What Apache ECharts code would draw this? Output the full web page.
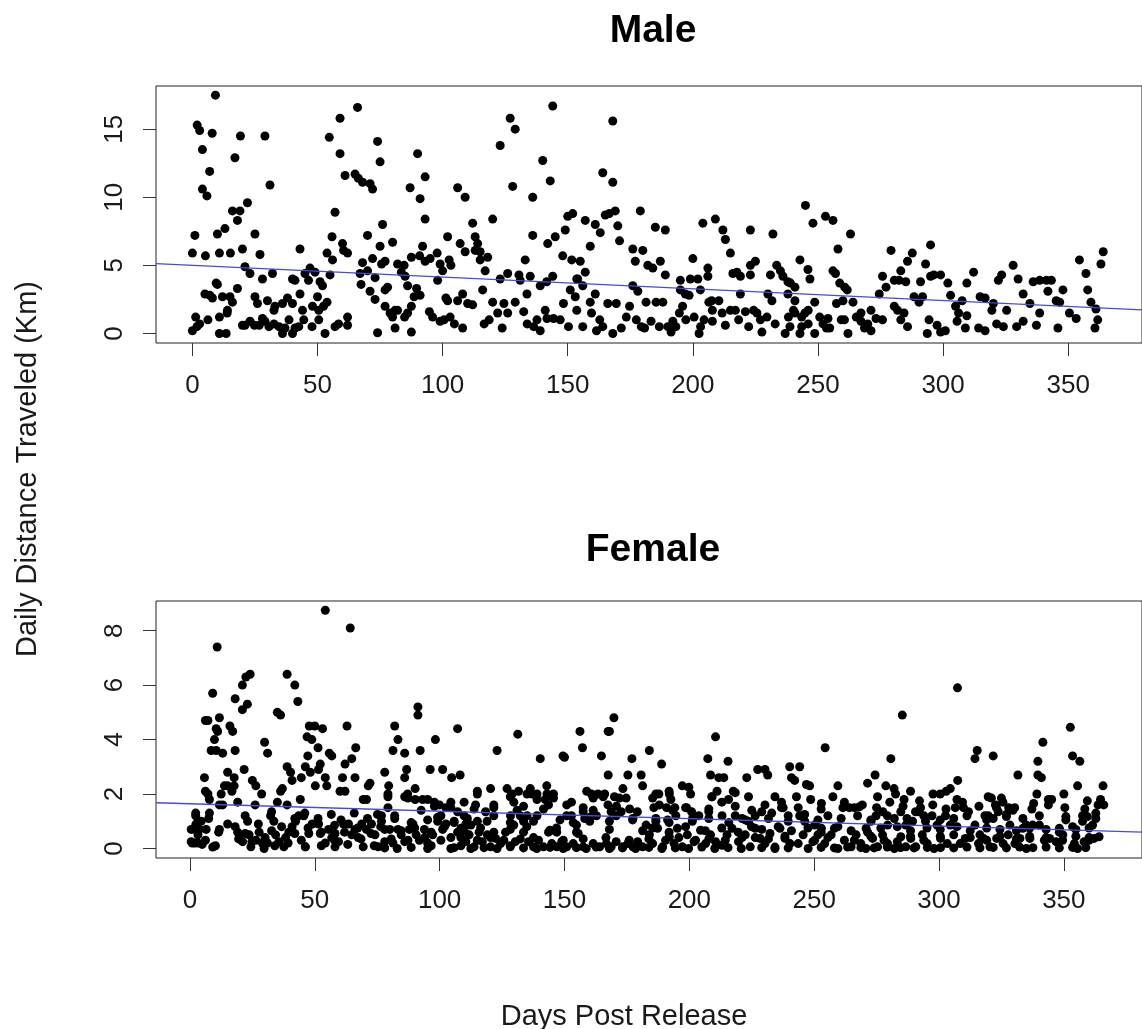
<!DOCTYPE html>
<html>
<head>
<meta charset="utf-8">
<script src="https://cdn.jsdelivr.net/npm/echarts@6/dist/echarts.min.js"></script>
<style>
  html, body { margin: 0; padding: 0; background: #fff; }
  #chart { width: 1142px; height: 1029px; }
</style>
</head>
<body>
<div id="chart"></div>
<script>
// [day, km]
const malePoints = [
  [9.2,17.5],[1.9,15.3],[2.9,14.9],[7.9,14.7],[4,13.5],[19.2,14.5],[29,14.5],[17,12.9],[6.9,11.9],[4,10.6],
  [5.8,10.1],[31,10.9],[22,9.6],[16,9.0],[19,9.0],[18,8.3],[13,7.7],[10,7.3],[1,7.2],[25,7.3],
  [0,5.9],[5.2,5.7],[10.8,5.9],[15.2,5.9],[20,6.2],[27,5.8],[43,6.2],[21,4.9],[23,4.4],[28,4.0],
  [32,4.4],[40,4.0],[41,3.9],[45,4.4],[47,4.8],[46.4,3.9],[49,4.5],[51,3.8],[52,3.5],[55,4.3],
  [9.5,3.7],[10,3.6],[5,2.9],[7,2.8],[8,2.6],[12,2.7],[15,2.7],[16,2.3],[18,3.3],[25,2.7],
  [26,2.2],[30,2.4],[33,2.0],[32.6,1.7],[36,2.2],[38,2.6],[40,2.2],[43,2.9],[44,1.7],[44.5,1.0],
  [48,2.0],[50,2.7],[50.5,1.7],[52.4,2.0],[53.8,2.3],[13.9,1.5],[14,1.7],[10.8,1.2],[1.3,1.2],[2.9,0.7],
  [6.2,1.0],[0,0.2],[1.8,0.5],[10.8,0],[13.5,0],[20,0.6],[21,0.6],[23,0.9],[24.8,0.6],[26.7,0.6],
  [28,1.1],[29,0.9],[30.6,0.5],[32.6,0.7],[34.6,0.5],[36,0],[37,0.4],[38.6,1.0],[40,0],[41,0.4],
  [42.5,0.5],[47.8,0.5],[50.5,1.0],[53,0],[57,0.5],[58.4,0.7],[62,0.6],[62,1.2],[54.7,14.4],[59,15.8],
  [66,16.6],[59,13.2],[61,11.6],[65,11.7],[66.3,11.4],[68,11.1],[71,11.0],[72,10.6],[57,8.9],[55.8,7.1],
  [60,6.6],[60.4,6.1],[62,5.9],[53.8,5.9],[56,5.4],[68,5.2],[70,7.2],[72,5.5],[75.6,5.1],[76,8.0],
  [77,5.3],[80,6.7],[74,14.1],[75,12.6],[75,6.4],[67,4.4],[67.4,3.6],[70,4.6],[73,4.1],[71,3.1],
  [73,2.5],[77,3.2],[78,3.4],[77,2.0],[79,1.5],[81,1.7],[82,1.7],[80,1.2],[81,0.4],[87.5,0.1],
  [74,0.05],[82,5.1],[84.6,5.0],[83.5,4.5],[85,4.2],[86,3.5],[87.5,5.6],[90.8,5.7],[93,5.3],[95,5.5],
  [97.8,5.9],[99,5.1],[100,4.6],[98,3.9],[90,13.2],[93,11.5],[91,9.9],[93,8.4],[87,10.7],[92,6.4],
  [89.6,3.3],[88.6,2.7],[91,2.8],[87.5,2.0],[86,1.5],[84.8,1.2],[94.7,1.6],[96,1.2],[99,0.9],[100.6,1.0],
  [103,1.2],[104.7,0.7],[108,0.4],[102,7.1],[106,10.7],[109,10.0],[107,6.6],[109,6.0],[102.6,5.4],[103.3,5.0],
  [101.3,2.6],[102,2.4],[106,2.4],[108,2.9],
  [112,8.1],[113,7.1],[114,6.6],[113,6.1],[115,6.0],[115,5.4],[118,5.6],[117,4.6],[120,8.4],[123,13.8],
  [127,15.8],[129,15.0],[128,10.8],[136,10.0],[140,12.7],[143,11.2],[144,16.7],[136,7.2],[142,6.6],[145,7.1],
  [149,7.6],[148,5.7],[150,8.6],[152,8.8],[157,8.3],[151.6,5.4],[155,5.3],[157,4.5],[153.6,4.0],[159,6.4],
  [161,8.0],[163,7.4],[165,8.7],[166.6,8.8],[169,9.0],[168,11.1],[164,11.8],[170,7.9],[170.7,6.8],[168,15.6],
  [176,6.2],[179,9.0],[180,6.1],[177,5.3],[182,5.0],[184,4.8],[187,5.3],[185,7.8],[189,7.6],[189,4.3],
  [200,5.5],[204,8.1],[209,8.4],[212,7.6],[213,6.9],[215,5.9],[206,4.8],[206,4.2],[202,4.0],[199,4.0],
  [195,3.9],[216,4.4],[217.6,4.5],[219,4.2],[223,7.6],[223,5.0],[225,5.3],[223,4.3],[232,7.3],[231,4.3],
  [233.5,5.0],[235,4.6],[236,4.2],[238,3.8],[239,3.7],
  [123,4.0],[126,4.4],[130.5,4.3],[131,3.9],[133,5.4],[133.7,2.9],[135,4.2],[139,3.5],[141.6,3.8],[144,4.2],
  [151,3.2],[154,4.0],[156,3.5],[161,2.9],[176,3.5],[178,3.1],[195,3.2],[197,2.9],[203,3.2],[207.5,2.4],
  [219,2.9],[230,2.9],[238,2.9],
  [110,2.2],[112,2.1],[116,3.2],[120,2.3],[122,1.5],[124.5,2.2],[126,1.5],[129,2.3],[132.4,1.6],[133.8,0.7],
  [136.4,0.5],[137.7,1.0],[139,0.2],[141,1.7],[141.7,1.1],[144.3,1.1],[147,1.0],[148.3,2.2],[150.3,0.5],[153,2.7],
  [153.6,1.7],[156,0.5],[159,2.3],[159.5,1.5],[161.5,0.2],[162.8,1.0],[164,0.5],[166,2.2],[168,0],[169.4,2.2],
  [171.4,0.4],[173.4,1.2],[174.7,2.0],[177.4,1.0],[179.4,0.5],[181.3,2.3],[183.3,0.9],[185.3,2.3],[186.6,0.5],[188,2.3],
  [190,0.5],[192,0.9],[193.2,0.5],[194.6,1.5],[195.9,2.0],[197.2,1.0],[198.5,2.8],[200.5,1.2],[202.5,0],[204.5,1.0],
  [206.4,2.3],[207.8,1.7],[210.4,2.4],[211.7,1.5],[213,0.6],[215,1.7],[217,1.7],[218.3,1.0],[221,1.6],[222.3,0.5],
  [224.3,1.7],[225.6,1.5],[227.6,0.1],[229.6,1.2],[231.6,2.4],[232.9,0.7],[236.9,0],[238.2,1.2],[240.2,1.7],[243.5,1.2],
  [123.8,0.4],[116.6,0.7],[118.6,1.0],[180.7,0.4],[191.3,0.1],[203.1,0.5],[207.8,0.9],[227,1.0],[238.8,0.5],
  [245,9.4],[248,8.1],[253,8.6],[256,8.3],[263,7.3],[258,6.2],[242.8,5.4],[246,4.7],[246.8,4.0],[256,4.6],
  [257,4.4],[258.7,3.7],[260.7,3.4],[261.7,3.2],[240.8,3.4],[240.8,2.4],[240.8,1.5],
  [248.7,2.3],[246.1,1.7],[244.8,1.5],[246.1,0.7],[243.5,0.5],[248.7,0],[252,0.7],[254,1.1],[253.4,0.4],[257.4,2.2],
  [260,2.4],[262,0],[260.6,1.0],[264,2.3],[265.3,1.2],[267.2,1.5],[268.6,0.4],[269.9,0.7],[271.2,1.7],[273.2,1.1],
  [274.5,2.9],[275.8,4.2],[277.2,3.4],[279.2,6.1],[280.5,3.9],[282.4,3.9],[283.1,4.6],[285.1,3.8],[285.8,5.3],[287.7,5.9],
  [280.5,2.0],[281.8,1.7],[284.4,1.5],[283.1,1.0],[285.8,0.5],[288.4,2.7],[290.4,2.3],[291,3.8],[293,5.1],[295,6.5],
  [295,4.2],[296.3,4.3],[299,4.3],[301.9,3.7],[303,2.8],[305,2.0],[306.2,1.5],[307.6,2.4],[309.5,3.7],[312.2,4.5],
  [314.8,2.7],[316.8,2.6],[319.5,1.7],[320.1,2.2],[322.1,3.9],[323.4,4.3],[325.4,1.7],[328,5.0],[330,4.0],[332,2.9],
  [334.7,2.2],[336,3.8],[338.6,3.9],[341.3,3.9],[343.3,3.9],[341.9,3.1],[345.2,2.4],[347.9,3.2],[346.6,2.3],[350.5,1.5],
  [353.2,1.1],[354.5,5.4],[357.1,4.4],[357.8,3.2],[359.1,2.3],[361.1,1.8],[361.8,1.0],[363.1,5.1],[364,6.0],[360.7,0.4],
  [338.6,1.5],[337.3,0.6],[345.9,0.4],[332,0.9],[329.4,0.5],[324.1,0.5],[321.4,0.7],[316.8,0.2],[314.2,0.4],[309.5,1.3],
  [308.9,0.4],[305.6,0.9],[300.9,0.2],[299,0.1],[297.6,0.6],[293.7,0],[294.4,1.0],[291.8,2.7],[271.2,0.2],[275.8,1.0],
  [267.2,0.9],[259.3,1.0],[254.7,0.4],[250.7,1.2],[242.8,0]
];

// [day, km], scattered points above the band
const femalePoints = [
  [54.2,8.75],[64.2,8.1],[10.9,7.4],[9.1,5.7],[21,6.0],[22.4,6.3],[24.1,6.4],[18.1,5.5],[23,5.3],[21,5.1],
  [38.9,6.4],[42,6.0],[43.2,5.4],[35,5.0],[36.3,4.9],[6.2,4.7],[7.2,4.7],[11.8,4.8],[10.5,4.4],[9.8,4.0],
  [11.1,4.3],[16,4.5],[17.1,4.3],[8.5,3.6],[10.5,3.6],[13.1,3.5],[18.1,3.6],[15.1,2.8],[17.7,2.6],[13.8,2.3],
  [15.1,2.3],[16.8,2.1],[17.7,2.3],[12.5,2.0],[29.9,3.9],[31.1,3.5],[5.8,2.6],[6.2,2.1],[7.2,2.0],[7.8,1.8],
  [7.8,1.3],[11.8,1.6],[13.1,1.6],[19.1,1.7],[26.1,1.6],[28.7,2.0],[21.7,2.9],[25,2.5],[26.4,2.3],[38.9,3.0],
  [40.3,2.8],[40.9,2.5],[44.6,2.6],[44.2,1.8],[37,2.2],[36.3,2.1],[35,1.7],[38.9,1.6],[47.8,4.5],[50,4.5],
  [53.1,4.4],[46.9,4.1],[48.8,4.0],[51.3,3.7],[47.2,3.4],[52.2,3.1],[51.5,2.9],[46.2,3.0],[48.2,2.8],[50.2,2.3],
  [54.2,2.6],[55.8,3.5],[56.8,3.4],[62.9,4.5],[66.4,3.7],[64.8,3.3],[62.1,3.1],[66.1,2.6],[61.1,2.6],[60.1,2.1],
  [62.1,2.1],[54.8,2.3],[69.4,1.8],[71.4,2.3],[72.1,2.4],[70.7,1.8],[78,2.8],[79.6,2.3],[79.3,1.9],[82,4.5],
  [83.3,4.0],[81.3,3.6],[86,3.5],[86,2.6],[86.8,2.9],[90.2,2.2],[91.3,5.2],[91.3,4.9],[92.2,3.6],[90.2,1.8],
  [87.2,2.0],[86,1.9],[96.2,2.9],[98.3,4.0],[101.2,2.9],[104.8,2.6],[107.2,4.4],[108.2,2.7],[104.5,1.7],[109.8,1.7],
  [93.2,1.8],[95.2,1.8],[97.9,1.7],[99.9,1.6],[102.5,1.5],[104.5,1.5],
  [123,3.6],[131.3,4.2],[140.3,3.3],[149.4,3.4],[150,3.35],[156.2,4.3],[157.2,3.7],[164.8,3.4],[167.5,4.3],[168,4.3],
  [169.8,4.8],[167.5,2.7],[175.4,2.7],[177,3.3],[180.7,2.7],[181.3,2.3],[184,3.6],[188.9,3.1],[186.6,2.0],[192,2.0],
  [192.6,1.8],[197.2,2.3],[200.5,2.0],[207.4,3.3],[208.5,2.7],[210.5,4.1],[211.8,2.6],[213.8,2.6],[215.5,3.2],[209.1,1.9],
  [211.1,2.1],[213,1.7],[215.7,1.8],[217.6,2.1],[223,2.6],[223.7,1.9],[227.4,2.9],[230.3,2.9],[231.4,2.7],[234.3,1.9],
  [237.6,1.5],[240.2,3.0],[240.9,2.6],[242.2,2.5],[244.2,3.0],[242.9,1.9],
  [115.1,2.0],[114.4,1.6],[120.4,2.2],[121.7,1.5],[127,2.2],[129,2.0],[129.7,1.7],[131.6,2.1],[135,2.0],[137,2.0],
  [139,2.0],[142.9,2.3],[142.3,1.8],[143.6,1.6],[145.6,2.0],[152.8,1.7],[157.5,1.35],[160.8,2.0],[161.5,1.85],[163.4,2.0],
  [166.1,2.0],[167.4,1.6],[170,1.9],[172,1.85],[174.7,1.85],[172.7,1.35],[179.2,1.35],[185.8,1.5],[187.8,2.0],[190.9,1.5],
  [194.2,1.5],[198.9,1.5],[200.9,1.35],
  [307.4,5.9],[285.3,4.9],[254.4,3.7],[352.6,4.45],[341.6,3.9],[280.7,3.3],[315.3,3.6],[314.4,3.3],[321.7,3.4],[339.6,3.2],
  [339.6,2.7],[341,2.6],[353.5,3.4],[356.4,3.2],[355.5,2.3],[365.7,2.3],[331.6,2.7],[350,2.0],[359.4,1.75],[364.7,1.8],
  [366,1.6],[345.1,1.8],[343.8,1.8],[339.2,2.0],[337.9,1.65],[246.9,2.35],[248.2,2.3],[248.6,1.8],[252.9,1.65],
  [257.5,1.9],[259.5,2.3],[271.4,2.4],[274.4,2.7],[275.4,1.9],[278.7,2.3],[282,2.2],[282.6,2.0],[288.6,2.1],[286,1.8],
  [297.6,2.0],[300.5,2.0],[302.9,2.1],[304.5,2.2],[307.2,1.8],[307.5,2.5],[292.6,1.5],[290.6,1.35],[319.7,1.9],[321,1.85],
  [325,1.85],[325.6,1.7],[329.6,1.4],[323,1.5],[319.7,1.2]
];

const femaleBandPoints = [
  [2.3,1.2],[2.5,0.9],[4.5,1.0],[0.5,0.7],[1.9,0.7],[3.8,0.7],[6.5,0.7],[0.5,0.25],[1.9,0.2],[3.2,0.2],
  [4.9,0.15],[9.1,0.05],[3.2,0.5],[11.8,0.7],[15.1,0.9],[19.1,0.6],[21.1,0.25],[23.1,1.0],[23.7,0.5],[24.4,0.06],
  [26.4,0.3],[27.7,0.6],[29,0.2],[29.7,0],[31,0.2],[32.3,1.2],[33.6,1.0],[34.3,0.5],[35.6,0.25],[37.6,0.06],
  [38.3,0.4],[39.6,0.6],[40.9,0.8],[42.3,1.0],[43.6,1.2],[45.6,1.2],[46.2,0.06],[47.6,0.55],[48.9,0.9],
  [51.5,0.9],[52.2,0.55],[54.2,0.2],[55.5,0.7],[56.8,0.4],[58.1,0.55],[59.5,0.25],[61.5,0.9],[63.5,0.9],[64.8,0.5],
  [66.1,0.7],[67.4,0.4],[68.8,0.9],[70.7,0.7],[72.7,0.9],[74.1,0.5],[75.4,0.06],[76.7,1.2],[78,0.25],[80,0.7],
  [82,1.2],[83.3,0.7],[84.6,0.5],[86,0.25],[87.9,0.7],[89.3,0.9],[90.6,0.5],[91.9,0.3],[93.9,0.7],[95.2,0.2],
  [97.2,0.5],[99.2,1.0],[100.5,1.2],[101.2,0.7],[102.5,0.9],[104.5,0.4],[105.8,1.0],[107.2,0.6],[108.5,0.1],[110.5,0.9],
  [104.5,0],[96.6,0.1],[81.3,0.2],[69.4,0.06],[58.1,0.06],[46.2,0.06],
  [0.9,0.2],[6.2,0.3],[10.2,0.1],[19.5,0.35],[24.8,0.25],[30.1,0.4],[34,0.1],[39.3,0.2],[44.6,0.3],[52.6,0.1],
  [57.9,0.3],[63.2,0.15],[68.5,0.35],[73.8,0.1],[2.3,0.85],[11.5,0.6],[18.1,0.8],[22.1,0.55],[27.4,0.9],[32.7,0.65],
  [36.7,0.8],[42,0.55],[47.3,0.75],[52.6,0.6],[57.9,0.85],[61.9,0.6],[67.2,0.75],[72.5,0.55],[76.4,0.8],[2.3,1.3],
  [7.5,1.1],[22.1,1.2],[32.7,1.35],[42,1.1],[46,1.3],[51.3,1.1],[56.6,1.25],[60.5,1.05],[65.8,1.3],[71.1,1.1],[75.1,1.25],
  [107.2,1.35],[109.8,1.2],[112.5,0.86],[115.1,1.0],[118.4,1.35],[121.7,1.2],[128.4,1.2],[132.3,1.2],[135,1.2],[139,1.2],
  [150.9,1.2],[152.8,1.2],[158.1,1.1],[162.8,1.2],[168.7,1.35],[170.7,1.2],[177.4,1.1],[182.7,0.86],[186.6,1.0],[191.3,1.05],
  [194.6,1.2],[201.3,1.1],[203.8,1.2],[207.8,1.35],[213.1,1.2],[218.4,1.2],[221.1,1.1],[223.7,1.0],[226.4,1.2],[229,1.35],
  [233,1.3],[236.9,1.5],[239.6,1.2],
  [108.5,0.74],[110.5,0.25],[111.8,0.5],[113.8,0.06],[115.8,0.6],[117.1,0.25],[119.1,0.5],[120.4,0.06],[122.4,0.37],[124.4,0.18],
  [126.4,0.6],[128.3,0.06],[130.3,0.25],[133.6,0.6],[135.6,0.25],[137.6,0.06],[139.6,0.3],[141.6,0.06],[143.6,0.6],[144.9,0.18],
  [146.9,0.06],[148.9,0.25],[150.9,0.06],[153.5,0.18],[155.5,0.55],[157.5,0.06],[160.1,1.0],[161.5,0.18],[164.1,0.06],[166.8,0.18],
  [168.7,0.06],[170.7,0.25],[173.4,0.06],[175.4,0.18],[177.4,0.06],[179.3,0.25],[181.3,0.06],[184,0.5],[185.3,0.18],[187.3,0.74],
  [189.3,0.06],[192,0.43],[193.9,0.18],[195.2,0.74],[197.2,0.06],[199.2,0.5],[201.9,0.25],[204.5,0.67],[206.5,0.18],[208.5,0.5],
  [210.5,0.25],[213.1,0.12],[215.1,0.5],[217.1,0.74],[219.7,0.25],[222.4,0.5],[224.4,0.06],[226.4,0.74],[228.3,0.37],[230.3,0.18],
  [232.3,0.55],[234.3,0],[236.3,0.74],[238.3,0.37],[240.3,0.18],[129.7,0.86],[144.2,0.67],[146.9,0.6],[154.8,0.86],[133.6,1.0],
  [78,0.02],[83,0.0],[88.6,0.04],[95.2,0.0],[105.8,0.03],[112.5,0.0],[117.8,0.03],[123,0.0],[128.3,0.1],[133.6,0.02],
  [138.9,0.0],[144.2,0.04],[149.5,0.0],[154.8,0.03],[158.7,0.0],[162.7,0.05],[168,0.0],[173.2,0.02],[178.5,0.0],[183.8,0.04],
  [189,0.0],[194.4,0.02],[199.7,0.0],[205,0.05],[210.2,0.0],[215.5,0.03],[220.8,0.0],
  [80.6,0.35],[87.3,0.3],[94,0.4],[100.5,0.3],[108.5,0.4],[115.1,0.3],[120.4,0.4],[125.7,0.3],[132.3,0.35],[137.6,0.4],
  [149.5,0.3],[157.5,0.35],[166.6,0.4],[175.9,0.3],[183.8,0.35],[190.5,0.3],[195.8,0.4],[202.5,0.3],[207.8,0.35],[214.4,0.3],[221.1,0.4],
  [78,0.7],[84.6,0.65],[90,0.75],[96.6,0.6],[101.9,0.8],[109.8,0.65],[116.4,0.75],[121.7,0.6],[128.3,0.7],[134.9,0.8],
  [144.2,0.65],[146.8,0.75],[154.8,0.6],[168,0.7],[181.3,0.65],[185.3,0.75],[191.9,0.6],[198.5,0.8],[206.4,0.65],[213,0.75],
  [219.6,0.6],[224.9,0.8],
  [76.7,1.0],[82,1.1],[88.6,0.95],[95.2,1.05],[99.2,1.15],[105.8,0.95],[111.1,1.1],[119,1.0],[128.3,0.95],[133.6,1.1],
  [137.6,1.0],[148.2,1.05],[153.5,0.95],[160.1,1.15],[168,1.0],[177.3,1.05],[186.6,1.1],[191.9,0.95],[201.2,1.0],[207.8,1.1],
  [215.8,0.95],[222.4,1.05],
  [79.3,1.5],[92.6,1.4],[97.9,1.55],[113.8,1.45],[121.7,1.6],[131,1.4],[133.6,1.55],[141.6,1.45],[150.9,1.6],[157.5,1.5],
  [161.5,1.4],[170.8,1.55],[176.1,1.45],[188,1.6],[193.3,1.4],[198.5,1.5],[207.8,1.45],[218.4,1.55],[225,1.4],
  [79.3,2.0],[87.3,1.85],[115.1,2.1],[128.3,1.9],[136.3,2.2],[139,1.8],[143,2.0],[145.6,1.85],[158.9,2.1],[165.5,1.9],
  [173.4,2.2],[185.3,1.85],[191.9,2.1],[199.8,2.25],[209,1.9],[218.4,2.05],
  [244.2,1.2],[246.2,1.0],[250.2,0.86],[252.9,0.74],[255.5,1.2],[258.1,0.74],[261.5,1.5],[264.1,1.5],[266.1,1.5],[268.1,1.53],
  [270.8,0.74],[272.8,1.0],[274.8,1.2],[277.5,1.35],[279.4,0.86],[282.1,1.1],[284.7,1.35],[286.7,0.86],[289.4,1.0],[292,1.35],
  [294.6,1.0],[297.2,1.2],[299.2,0.86],[302.6,1.2],[304.5,0.86],[306.5,1.5],[309.8,1.5],[311.8,1.35],[314.4,0.86],[316.4,0.5],
  [318.4,1.2],[321.7,1.1],[323.7,1.35],[327,1.17],[328.4,0.86],[330.3,1.5],[333.6,0.74],[334.9,0.86],[337.5,0.86],[340.2,0.86],
  [348.2,0.74],[350.8,1.17],[353.5,0.8],[357.5,1.0],[359.4,1.17],[361.5,0.86],[362.8,1.1],
  [243.6,0.18],[245.6,0.5],[247.6,0],[249.5,0.25],[251.5,0.5],[254.2,0.18],[256.8,0.5],[259.5,0],[262.1,0.3],[264.8,0.06],
  [266.8,0.5],[268.7,0.18],[270.7,0],[273.4,0.37],[275.4,0.06],[277.4,0.5],[279.4,0.18],[282.1,0],[284.7,0.43],[286.7,0.06],
  [288.7,0.37],[290.7,0.06],[293.3,0.5],[295.3,0.18],[298,0],[300.6,0.37],[303.3,0.18],[305.9,0.5],[308.5,0.18],[310.5,0.37],
  [315.8,0.18],[317.8,0.37],[320.4,0.06],[323.1,0.37],[325.7,0.18],[327.7,0.5],[330.4,0.18],[332.4,0.37],[335,0],[336.4,0.37],
  [342.2,0.3],[344.3,0.37],[346.9,0.25],[349.6,0.5],[354.2,0.18],[355.5,0],[358.1,0.25],[360.1,0.3],[362.1,0.37],[364.1,0.43],
  [229,0.03],[234.3,0.05],[239.6,0.02],[252.8,0.04],[258.1,0.02],[263.4,0.05],[268.7,0.03],[274,0.02],[279.3,0.05],[284.6,0.03],
  [290,0.02],[295.3,0.04],[300.6,0.03],[305.9,0.02],[311.2,0.05],[316.4,0.02],[321.7,0.04],[327,0.02],[332.3,0.05],[337.6,0.03],
  [342.9,0.05],[348.2,0.02],[353.5,0.04],[358.8,0.03],
  [226.4,0.4],[231.7,0.35],[238.3,0.45],[250.2,0.3],[255.5,0.4],[266.1,0.3],[272.7,0.45],[278,0.3],[283.3,0.25],[288.6,0.45],
  [293.9,0.3],[300.5,0.45],[312.5,0.4],[319.1,0.3],[324.4,0.45],[331,0.35],[336.3,0.45],[342.9,0.4],[349.5,0.3],[354.8,0.45],[360.1,0.4],
  [229,0.7],[235.6,0.8],[240.9,0.65],[247.5,0.75],[252.8,0.6],[259.5,0.8],[264.8,0.65],[271.4,0.6],[276.7,0.75],[283.3,0.8],
  [288.6,0.65],[295.2,0.75],[300.5,0.7],[307.2,0.8],[312.5,0.65],[319.1,0.75],[324.4,0.7],[331,0.65],[336.3,0.75],[342.9,0.7],
  [348.2,0.6],[354.8,0.7],[360.1,0.75],
  [231.7,1.1],[239.6,1.0],[246.2,1.25],[251.5,1.05],[260.8,1.1],[267.4,1.2],[272.7,1.05],[279.3,1.2],[287.2,1.1],[293.9,1.2],
  [300.5,1.05],[305.9,1.1],[311.2,1.2],[319.1,1.05],[327,1.25],[333.6,1.1],[340.2,1.2],[350.8,1.05],[357.5,1.2],[362.8,1.3],
  [230.3,1.6],[236.9,1.7],[243.6,1.5],[252.8,1.45],[262.1,1.7],[269.3,1.6],[275,1.5],[280.3,1.7],[285.6,1.55],[292.2,1.75],
  [297.5,1.6],[302.8,1.45],[309.4,1.7],[316,1.55],[322.6,1.6],[327.9,1.5],[337.2,1.45],[343.8,1.6],[350.4,1.5],[358.4,1.45],[363.7,1.6]
];

// linear fits: [intercept, slope]
const maleFit = [5.005, -0.00863];
const femaleFit = [1.643, -0.00273];

const xTicks = [0, 50, 100, 150, 200, 250, 300, 350];
const maleYTicks = [0, 5, 10, 15];
const femaleYTicks = [0, 2, 4, 6, 8];

const maleXRange = [-14.55, 379.5];
const maleYRange = [-0.7, 18.17];
const femaleXRange = [-13.6, 381.3];
const femaleYRange = [-0.35, 9.09];

const FONT = '"Liberation Sans", Arial, Helvetica, sans-serif';

const chart = echarts.init(document.getElementById('chart'), null, { renderer: 'canvas' });

function fitLine(fit, range) {
  return range.map(x => [x, fit[0] + fit[1] * x]);
}

function xAxisOf(idx, range) {
  return {
    type: 'value', gridIndex: idx, min: range[0], max: range[1],
    axisLine: { show: false, onZero: false },
    axisTick: { show: true, length: 13, customValues: xTicks, lineStyle: { color: '#333', width: 1 } },
    axisLabel: { customValues: xTicks, fontSize: 26, fontFamily: FONT, color: '#1a1a1a', margin: 30 },
    splitLine: { show: false }
  };
}

function yAxisOf(idx, range, ticks) {
  return {
    type: 'value', gridIndex: idx, min: range[0], max: range[1],
    axisLine: { show: false, onZero: false },
    axisTick: { show: true, length: 13, customValues: ticks, lineStyle: { color: '#333', width: 1 } },
    axisLabel: { customValues: ticks, rotate: 90, fontSize: 26, fontFamily: FONT, color: '#1a1a1a', margin: 28 },
    splitLine: { show: false }
  };
}

const dotStyle = { color: '#000', opacity: 1 };
const fitStyle = { color: '#4a4ad6', width: 1.3 };

const option = {
  backgroundColor: '#fff',
  animation: false,
  grid: [
    { left: 156, top: 86, width: 994, height: 257, show: true, borderColor: '#222', borderWidth: 1 },
    { left: 156, top: 601, width: 994, height: 257, show: true, borderColor: '#222', borderWidth: 1 }
  ],
  xAxis: [xAxisOf(0, maleXRange), xAxisOf(1, femaleXRange)],
  yAxis: [yAxisOf(0, maleYRange, maleYTicks), yAxisOf(1, femaleYRange, femaleYTicks)],
  graphic: [
    { type: 'text', x: 653, y: 31, style: { text: 'Male', font: 'bold 39px ' + FONT, fill: '#000', textAlign: 'center', textVerticalAlign: 'middle' } },
    { type: 'text', x: 653, y: 550, style: { text: 'Female', font: 'bold 39px ' + FONT, fill: '#000', textAlign: 'center', textVerticalAlign: 'middle' } },
    { type: 'text', x: 624, y: 1017, style: { text: 'Days Post Release', font: '29px ' + FONT, fill: '#1a1a1a', textAlign: 'center', textVerticalAlign: 'middle' } },
    { type: 'text', x: 28, y: 469, rotation: Math.PI / 2, style: { text: 'Daily Distance Traveled (Km)', font: '29px ' + FONT, fill: '#1a1a1a', textAlign: 'center', textVerticalAlign: 'middle' } }
  ],
  series: [
    { type: 'scatter', xAxisIndex: 0, yAxisIndex: 0, data: malePoints, symbolSize: 9,
      itemStyle: dotStyle, silent: true },
    { type: 'line', xAxisIndex: 0, yAxisIndex: 0, data: fitLine(maleFit, maleXRange), symbol: 'none',
      lineStyle: fitStyle, silent: true, z: 3 },
    { type: 'scatter', xAxisIndex: 1, yAxisIndex: 1, data: femalePoints.concat(femaleBandPoints), symbolSize: 9,
      itemStyle: dotStyle, silent: true },
    { type: 'line', xAxisIndex: 1, yAxisIndex: 1, data: fitLine(femaleFit, femaleXRange), symbol: 'none',
      lineStyle: fitStyle, silent: true, z: 3 }
  ]
};

chart.setOption(option);
</script>
</body>
</html>
